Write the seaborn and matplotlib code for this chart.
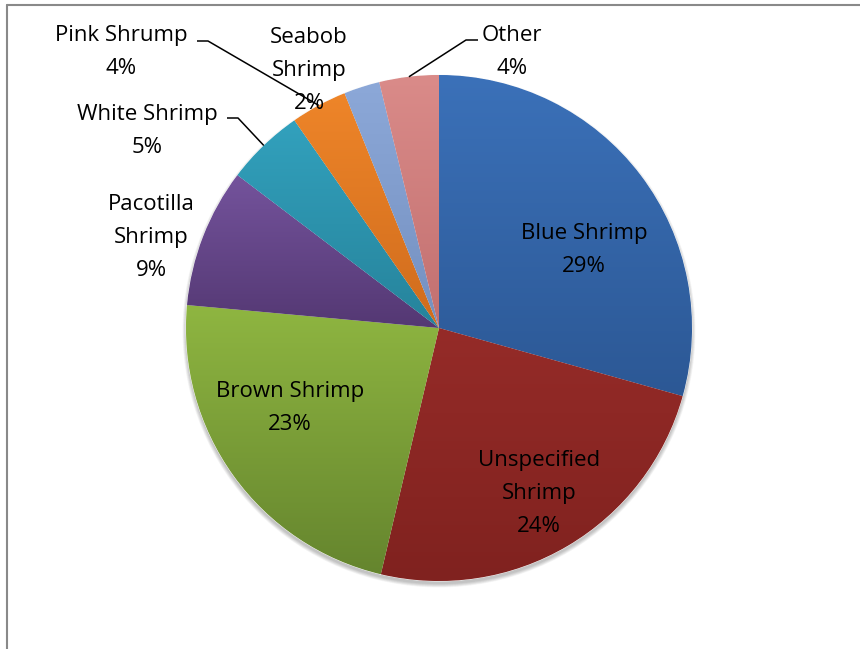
import numpy as np
import matplotlib
matplotlib.use("Agg")
import matplotlib.pyplot as plt
import seaborn as sns
from matplotlib.colors import LinearSegmentedColormap
from matplotlib.lines import Line2D
from matplotlib.patches import Circle

# ---------------- data ----------------
categories = ["Blue Shrimp", "Unspecified Shrimp", "Brown Shrimp", "Pacotilla Shrimp",
              "White Shrimp", "Pink Shrump", "Seabob Shrimp", "Other"]
shares = [29.4, 24.4, 22.8, 8.9, 5.0, 3.6, 2.3, 3.8]
pct_labels = ["29%", "24%", "23%", "9%", "5%", "4%", "2%", "4%"]
label_lines = [["Blue Shrimp"], ["Unspecified", "Shrimp"], ["Brown Shrimp"],
               ["Pacotilla", "Shrimp"], ["White Shrimp"], ["Pink Shrump"],
               ["Seabob", "Shrimp"], ["Other"]]
top_colors = ["#3B71B9", "#952B28", "#8FB641", "#74539C", "#32A1BD", "#EE8529", "#8CA8D8", "#DA8B89"]
bot_colors = ["#2C5895", "#80221F", "#65852E", "#543873", "#26839B", "#D06C1D", "#7490C0", "#C27070"]

# ---------------- layout (pixel units) ----------------
W, H = 860, 649
CX, CY, R = 439, 328, 253
# label: (x center, first baseline) in px from top
label_pos = [(584, 239), (539, 466), (290, 397), (151, 210),
             (147, 120), (121, 41), (309, 43), (512, 41)]
line_gap = 33
# leader lines: (stub start x, stub end x, stub y)
leaders = {5: (197, 208, 41), 4: (227, 238, 118), 7: (478, 466, 40)}

sns.set_theme(style="white")
plt.rcParams['font.family'] = ['Open Sans', 'DejaVu Sans']

fig = plt.figure(figsize=(W / 100, H / 100), dpi=100)
ax = fig.add_axes([0, 0, 1, 1])
ax.set_xlim(0, W)
ax.set_ylim(0, H)
ax.set_aspect('equal')
ax.axis('off')

def Y(y):
    return H - y

# soft shadow (mostly below the pie)
for k in range(8):
    ax.add_patch(Circle((CX, Y(CY) - 3), R + 0.5 * k, color="black",
                        alpha=0.03, lw=0, zorder=0))

wedges, _ = ax.pie(shares, startangle=90, counterclock=False, center=(CX, Y(CY)),
                   radius=R, colors=top_colors,
                   wedgeprops=dict(linewidth=0.6, edgecolor="white"))
ax.set_xlim(0, W)
ax.set_ylim(0, H)

# vertical gradient fill of each wedge
for w, c1, c2 in zip(wedges, top_colors, bot_colors):
    th = np.radians(np.linspace(w.theta1, w.theta2, 200))
    xs = np.concatenate([[CX], CX + R * np.cos(th)])
    ys = np.concatenate([[Y(CY)], Y(CY) + R * np.sin(th)])
    cmap = LinearSegmentedColormap.from_list("g", [c2, c1])
    grad = np.linspace(0, 1, 256).reshape(-1, 1)
    im = ax.imshow(grad, cmap=cmap, origin='lower', aspect='auto',
                   extent=[xs.min(), xs.max(), ys.min(), ys.max()], zorder=1.5)
    im.set_clip_path(w)

# labels
for i, (lines, pct) in enumerate(zip(label_lines, pct_labels)):
    x, b = label_pos[i]
    for j, t in enumerate(lines + [pct]):
        ax.text(x, Y(b + j * line_gap), t, ha='center', va='baseline',
                fontsize=16, color='black', zorder=5)

# leader lines
for i, (xa, xb, ys) in leaders.items():
    w = wedges[i]
    mid = np.radians((w.theta1 + w.theta2) / 2)
    ex, ey = CX + R * np.cos(mid), Y(CY) + R * np.sin(mid)
    ax.plot([xa, xb, ex], [Y(ys), Y(ys), ey], color='black', lw=1.1, zorder=4,
            solid_capstyle='butt')

# chart frame
fig.add_artist(Line2D([7 / W, 1], [1 - 5 / H, 1 - 5 / H], color="#898989", lw=1.5))
fig.add_artist(Line2D([7 / W, 7 / W], [0, 1 - 5 / H], color="#898989", lw=1.5))

fig.savefig("out.png", dpi=100)
